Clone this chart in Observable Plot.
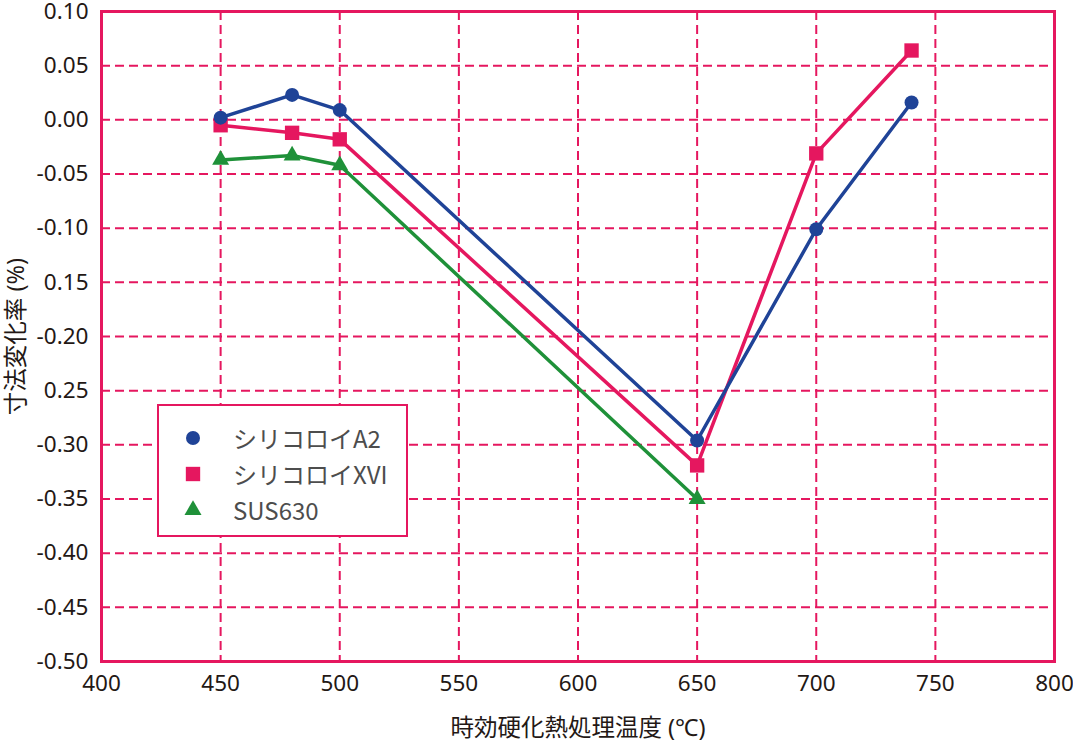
<!DOCTYPE html>
<html>
<head>
<meta charset="utf-8">
<script src="https://cdn.jsdelivr.net/npm/d3@7"></script>
<script src="https://cdn.jsdelivr.net/npm/@observablehq/plot@0.6"></script>
<style>
  body { margin: 0; background: #fff; }
  #wrap { position: relative; width: 1073px; height: 742px; }
  #legend {
    position: absolute; left: 157px; top: 404px; width: 247px; height: 129px;
    border: 2px solid #e5175f; background: #fff;
    font-family: "Noto Sans CJK JP", "Noto Sans", sans-serif; font-size: 24px; color: #4d4d4d;
  }
  .item { position: absolute; left: 0; height: 36px; width: 100%; }
  .item svg { position: absolute; left: 22px; top: 6px; }
  .item span { position: absolute; left: 74px; top: 50%; transform: translateY(-52%); white-space: nowrap; }
</style>
</head>
<body>
<div id="wrap"></div>
<script>
// ---- data ----
const temps = [450, 480, 500, 650, 700, 740];
const a2Values = [0.002, 0.023, 0.009, -0.296, -0.101, 0.016];
const xviValues = [-0.005, -0.012, -0.018, -0.319, -0.031, 0.064];
const susTemps = [450, 480, 500, 650];
const susValues = [-0.037, -0.033, -0.042, -0.350];

const seriesNames = ["シリコロイA2", "シリコロイXVI", "SUS630"];
const seriesColors = ["#1f4397", "#e5175f", "#1f9139"];
const seriesSymbols = ["circle", "square", "triangle"];

const xTicks = [400, 450, 500, 550, 600, 650, 700, 750, 800];
const yTicks = [0.10, 0.05, 0.00, -0.05, -0.10, -0.15, -0.20, -0.25, -0.30, -0.35, -0.40, -0.45, -0.50];
const yTickLabels = ["0.10", "0.05", "0.00", "-0.05", "-0.10", "0.15", "-0.20", "0.25", "-0.30", "-0.35", "-0.40", "-0.45", "-0.50"];

const xLabel = "時効硬化熱処理温度 (℃)";
const yLabel = "寸法変化率 (%)";

// ---- build ----
const pink = "#e5175f";
const a2 = temps.map((t, i) => ({x: t, y: a2Values[i]}));
const xvi = temps.map((t, i) => ({x: t, y: xviValues[i]}));
const sus = susTemps.map((t, i) => ({x: t, y: susValues[i]}));
const yLabelMap = new Map(yTicks.map((t, i) => [t, yTickLabels[i]]));

const inner = (arr) => arr.slice(1, -1);

const chart = Plot.plot({
  width: 1073,
  height: 742,
  marginLeft: 101,
  marginRight: 19,
  marginTop: 11,
  marginBottom: 81,
  style: {fontFamily: "'Noto Sans', 'Noto Sans CJK JP', sans-serif", fontSize: "23px", color: "#231815", background: "#fff"},
  x: {domain: [400, 800]},
  y: {domain: [-0.5, 0.1]},
  marks: [
    Plot.ruleX(inner(xTicks), {stroke: pink, strokeWidth: 2, strokeDasharray: "9,5"}),
    Plot.ruleY(inner(yTicks), {stroke: pink, strokeWidth: 2, strokeDasharray: "9,5"}),
    Plot.frame({stroke: pink, strokeWidth: 3}),
    Plot.axisX({ticks: xTicks, tickSize: 0, tickPadding: 14, tickFormat: d => String(d), label: null, fontSize: 22.5}),
    Plot.axisX({ticks: [], tickSize: 0, label: xLabel, labelAnchor: "center", labelArrow: "none", labelOffset: 74, fontSize: 23.5}),
    Plot.axisY({ticks: yTicks, tickSize: 0, tickPadding: 13, tickFormat: d => yLabelMap.get(d), label: null, fontSize: 22.5}),
    Plot.axisY({ticks: [], tickSize: 0, label: yLabel, labelAnchor: "center", labelArrow: "none", labelOffset: 94, fontSize: 23.5}),
    Plot.line(sus, {x: "x", y: "y", stroke: seriesColors[2], strokeWidth: 3.5}),
    Plot.line(xvi, {x: "x", y: "y", stroke: seriesColors[1], strokeWidth: 3.5}),
    Plot.line(a2, {x: "x", y: "y", stroke: seriesColors[0], strokeWidth: 3.5}),
    Plot.dot(sus, {x: "x", y: "y", symbol: "triangle", r: 6.3, fill: seriesColors[2], stroke: "none"}),
    Plot.dot(xvi, {x: "x", y: "y", symbol: "square", r: 8.1, fill: seriesColors[1], stroke: "none"}),
    Plot.dot(a2, {x: "x", y: "y", symbol: "circle", r: 7, fill: seriesColors[0], stroke: "none"})
  ]
});

const wrap = document.getElementById("wrap");
wrap.appendChild(chart);

// legend
const legend = document.createElement("div");
legend.id = "legend";
const rowTops = [14, 50, 86];
seriesNames.forEach((name, i) => {
  const item = document.createElement("div");
  item.className = "item";
  item.style.top = rowTops[i] + "px";
  const svg = d3.create("svg").attr("width", 24).attr("height", 24);
  const sym = {circle: d3.symbolCircle, square: d3.symbolSquare, triangle: d3.symbolTriangle}[seriesSymbols[i]];
  const rr = [7, 8.1, 6.3][i];
  svg.append("path")
    .attr("transform", "translate(12,12)")
    .attr("d", d3.symbol(sym, Math.PI * rr * rr)())
    .attr("fill", seriesColors[i]);
  item.appendChild(svg.node());
  const span = document.createElement("span");
  span.textContent = name;
  item.appendChild(span);
  legend.appendChild(item);
});
wrap.appendChild(legend);
</script>
</body>
</html>
